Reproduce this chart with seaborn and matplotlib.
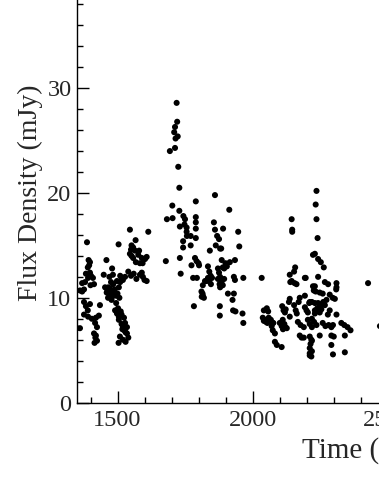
import matplotlib
matplotlib.use("Agg")
import matplotlib.pyplot as plt
from matplotlib.ticker import MultipleLocator
import seaborn as sns
import pandas as pd

# ---- data ----
time_c1 = [1350, 1361, 1361, 1369, 1376, 1369, 1380, 1376, 1383, 1390, 1398,
           1376, 1391, 1405, 1420, 1431, 1387, 1393, 1395, 1398, 1390, 1398,
           1383, 1391, 1402, 1409, 1400, 1413, 1417, 1424, 1413, 1418, 1424,
           1415, 1420, 1435, 1459, 1449, 1480, 1470, 1483, 1476, 1466, 1484,
           1454, 1460, 1470, 1465, 1480, 1476, 1488, 1495, 1472, 1490, 1462,
           1478, 1498, 1505, 1510, 1500, 1507, 1495, 1502, 1504, 1510, 1520,
           1528, 1515, 1491, 1498, 1505, 1515, 1524, 1512, 1505, 1515, 1520,
           1525, 1530, 1518, 1528, 1535, 1509, 1520, 1530, 1540, 1535, 1504,
           1546, 1552, 1558, 1550, 1565, 1580, 1546, 1552, 1577, 1558, 1590,
           1602, 1608, 1568, 1583, 1593, 1567, 1583, 1594, 1600, 1608, 1590,
           1540, 1550, 1560, 1570, 1614]
flux_c1 = [7.1, 7.1, 10.7, 10.6, 10.8, 11.4, 11.5, 9.6, 9.2, 8.8, 9.4,
           8.4, 8.2, 8.0, 8.1, 8.3, 15.3, 13.6, 13.1, 13.4, 12.9, 12.4,
           12.3, 11.9, 12.1, 11.9, 11.2, 11.3, 7.6, 7.2, 6.6, 6.2, 5.9,
           5.7, 6.4, 9.3, 13.6, 12.2, 12.8, 12.0, 12.2, 11.5, 11.0, 11.3,
           11.0, 10.5, 10.3, 10.0, 10.1, 10.7, 10.5, 10.2, 10.9, 10.8, 10.6,
           9.8, 11.6, 11.0, 11.5, 10.4, 10.0, 9.5, 9.0, 15.1, 12.1, 11.7,
           12.0, 11.9, 8.8, 8.5, 8.2, 8.4, 8.1, 8.7, 7.9, 7.5, 7.2,
           6.9, 6.7, 7.0, 7.6, 7.2, 6.3, 6.0, 5.8, 6.2, 6.6, 5.7,
           16.5, 15.0, 14.8, 14.6, 14.5, 14.5, 14.2, 14.0, 14.1, 13.8, 13.8,
           13.7, 13.9, 13.4, 13.3, 13.3, 15.5, 12.2, 12.0, 11.7, 11.6, 12.4,
           12.5, 12.1, 12.3, 11.8, 16.3]

time_c2 = [1719, 1721, 1713, 1710, 1723, 1715, 1713, 1694, 1725, 1729,
           1861, 1790, 1703, 1914, 1729, 1683, 1704, 1744, 1750, 1748, 1790,
           1790, 1790, 1731, 1756, 1756, 1757, 1857, 1861, 1869, 1876, 1891,
           1947, 1743, 1743, 1771, 1771, 1790, 1864, 1880, 1884, 1842, 1951,
           1679, 1731, 1787, 1793, 1800, 1802, 1774, 1886, 1900, 1905, 1895,
           1890, 1916, 1935, 1835, 1840, 1845, 1835, 1850, 1840, 1830, 1846,
           1872, 1876, 1880, 1872, 1885, 1890, 1880, 1878, 1895, 1931, 1935,
           1966, 1734, 1780, 1794, 1824, 1816, 1811, 1816, 1820, 1812, 1815,
           1909, 1931, 1926, 1783, 1879, 1928, 1937, 1879, 1963, 1966]
flux_c2 = [28.6, 26.8, 26.3, 25.8, 25.4, 25.2, 24.3, 24.0, 22.5, 20.5,
           19.8, 19.2, 18.8, 18.4, 18.3, 17.5, 17.6, 17.8, 17.5, 17.0, 17.7,
           17.2, 16.6, 16.8, 16.7, 16.3, 15.9, 17.2, 16.5, 15.9, 15.6, 16.6,
           16.3, 15.4, 14.8, 15.9, 15.0, 15.7, 15.0, 14.7, 14.7, 14.5, 14.9,
           13.5, 13.8, 13.8, 13.5, 13.3, 13.1, 13.1, 13.6, 13.3, 13.0, 12.8,
           12.9, 13.4, 13.6, 13.0, 12.5, 12.1, 11.9, 11.9, 11.6, 11.6, 11.3,
           12.8, 12.4, 12.0, 11.8, 11.5, 11.2, 11.0, 11.3, 11.8, 12.0, 11.7,
           11.9, 12.3, 11.9, 11.9, 11.6, 11.2, 10.6, 10.2, 10.0, 10.1, 10.4,
           10.4, 10.4, 9.8, 9.2, 9.2, 8.8, 8.7, 8.3, 8.5, 7.6]

time_c3 = [2145, 2147, 2147, 2237, 2234, 2237, 2241, 2231, 2224, 2243, 2253,
           2264, 2243, 2034, 2158, 2154, 2138, 2145, 2156, 2194, 2140, 2163,
           2197, 2224, 2227, 2231, 2234, 2268, 2280, 2311, 2311, 2310, 2428,
           2249, 2260, 2286, 2297, 2274, 2305, 2243, 2250, 2256, 2262, 2240,
           2255, 2268, 2212, 2220, 2231, 2249, 2286, 2279, 2311, 2220, 2228,
           2237, 2260, 2270, 2282, 2292, 2298, 2329, 2340, 2352, 2363, 2249,
           2292, 2301, 2342, 2218, 2212, 2215, 2292, 2298, 2342, 2212, 2218,
           2138, 2135, 2175, 2171, 2194, 2210, 2053, 2042, 2058, 2110, 2115,
           2120, 2123, 2154, 2160, 2164, 2194, 2200, 2205, 2231, 2231, 2038,
           2045, 2050, 2055, 2060, 2068, 2075, 2042, 2064, 2077, 2071, 2101,
           2112, 2118, 2108, 2122, 2127, 2113, 2138, 2168, 2178, 2190, 2205,
           2212, 2220, 2075, 2083, 2175, 2190, 2182, 2083, 2090, 2108, 2212,
           2220, 2220, 2212, 2472]
flux_c3 = [17.5, 16.5, 16.3, 20.2, 18.9, 17.5, 15.7, 14.2, 14.1, 13.7, 13.4,
           12.9, 12.0, 11.9, 12.9, 12.5, 12.2, 11.6, 11.4, 11.9, 11.5, 11.3,
           11.9, 11.1, 10.7, 11.1, 10.6, 11.5, 11.3, 11.4, 11.0, 10.8, 11.4,
           10.5, 10.4, 10.3, 10.0, 9.8, 9.9, 9.5, 9.2, 9.4, 9.6, 9.0,
           8.9, 9.3, 9.6, 9.6, 8.5, 8.6, 8.8, 8.4, 8.4, 8.0, 7.7,
           7.4, 7.6, 7.3, 7.4, 7.2, 7.4, 7.6, 7.4, 7.2, 6.9, 6.4,
           6.4, 6.3, 6.4, 6.0, 5.2, 5.6, 5.5, 4.6, 4.8, 4.7, 4.4,
           9.9, 9.6, 10.0, 9.6, 10.2, 9.5, 9.0, 8.8, 8.7, 9.2, 8.8,
           8.6, 8.9, 9.3, 8.8, 8.5, 9.1, 8.8, 8.6, 9.5, 8.8, 8.1,
           7.9, 7.7, 7.6, 8.1, 7.9, 7.6, 7.8, 7.9, 7.6, 7.3, 7.6,
           7.9, 7.5, 7.3, 7.2, 7.1, 7.0, 8.2, 7.7, 7.4, 7.2, 7.9,
           7.5, 7.2, 6.9, 6.6, 6.4, 6.2, 6.2, 5.8, 5.5, 5.3, 6.3,
           5.9, 4.9, 4.5, 7.3]

df = pd.DataFrame({
    "time": time_c1 + time_c2 + time_c3,
    "flux": flux_c1 + flux_c2 + flux_c3,
})

sns.set_style("ticks")
plt.rcParams["font.family"] = ["Liberation Serif", "DejaVu Serif"]

W, H = 379, 491
fig = plt.figure(figsize=(W / 100, H / 100), dpi=100)

x0, x1 = 1350, 3000
y0, y1 = 0, 40
px_per_day = 0.27
px_per_unit = 10.48
left_px, bottom_px = 77, 402.6
ax_w = (x1 - x0) * px_per_day
ax_h = (y1 - y0) * px_per_unit
ax = fig.add_axes([left_px / W, (H - bottom_px) / H, ax_w / W, ax_h / H])

sns.scatterplot(data=df, x="time", y="flux", ax=ax, color="black",
                s=19, edgecolor="none", linewidth=0)

ax.set_xlim(x0, x1)
ax.set_ylim(y0, y1)
ax.xaxis.set_major_locator(MultipleLocator(500))
ax.xaxis.set_minor_locator(MultipleLocator(100))
ax.yaxis.set_major_locator(MultipleLocator(10))
ax.yaxis.set_minor_locator(MultipleLocator(2))
ax.tick_params(which="both", direction="in", width=1.0, color="black",
               top=False, right=False)
ax.tick_params(which="major", length=8.5, labelsize=17.5)
ax.tick_params(axis="x", which="major", pad=5)
ax.tick_params(axis="y", which="major", pad=4)
ax.tick_params(which="minor", length=4.5)
for s in ["left", "bottom"]:
    ax.spines[s].set_linewidth(1.0)
    ax.spines[s].set_color("black")
for s in ["top", "right"]:
    ax.spines[s].set_visible(False)

ax.set_xlabel("Time (days)", fontsize=21)
ax.set_ylabel("Flux Density (mJy)", fontsize=20)
ax.xaxis.label.set_horizontalalignment("left")
ax.xaxis.set_label_coords((302 - left_px) / ax_w, (bottom_px - 437) / ax_h)
ax.yaxis.set_label_coords((43 - left_px) / ax_w, 0.5)

fig.savefig("out.png", dpi=100)
